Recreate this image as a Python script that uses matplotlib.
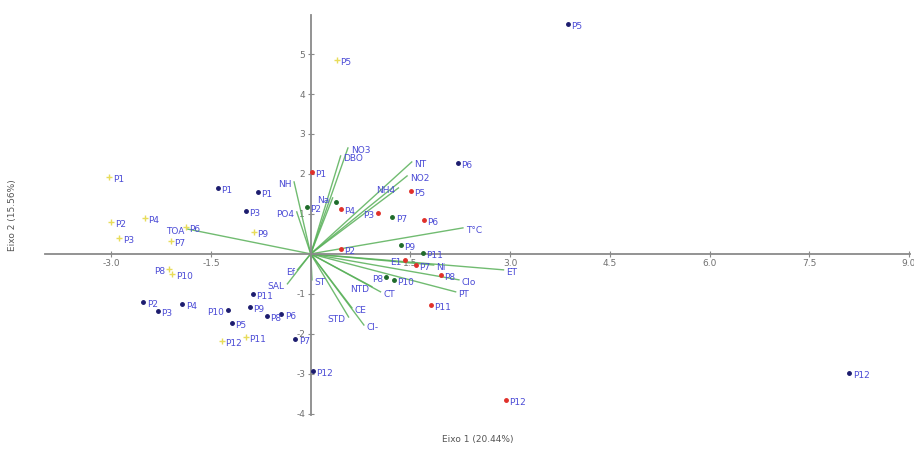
import matplotlib
matplotlib.use("Agg")
import matplotlib.pyplot as plt

# PCA biplot, scores per group + variable loadings

# yellow group
yel_lab = ["P1", "P2", "P4", "P3", "P6", "P7", "P8", "P10", "P9", "P12", "P11", "P5"]
yel_x = [-3.03, -3.0, -2.5, -2.88, -1.88, -2.1, -2.13, -2.08, -0.86, -1.34, -0.98, 0.39]
yel_y = [1.93, 0.80, 0.90, 0.40, 0.68, 0.33, -0.38, -0.50, 0.55, -2.17, -2.07, 4.85]

# dark blue group
blu_lab = ["P1", "P1", "P3", "P2", "P3", "P4", "P10", "P11", "P9", "P8", "P6", "P5",
           "P7", "P12", "P5", "P12", "P6"]
blu_x = [-1.40, -0.80, -0.98, -2.52, -2.30, -1.93, -1.25, -0.87, -0.92, -0.66, -0.44,
         -1.19, -0.23, 0.03, 3.87, 8.10, 2.21]
blu_y = [1.65, 1.55, 1.08, -1.20, -1.43, -1.25, -1.40, -1.00, -1.33, -1.55, -1.50,
         -1.73, -2.13, -2.93, 5.75, -2.98, 2.28]

# green group
grn_lab = ["P2", "", "P7", "P9", "P11", "P8", "P10"]
grn_x = [-0.06, 0.38, 1.23, 1.36, 1.69, 1.14, 1.25]
grn_y = [1.18, 1.30, 0.93, 0.23, 0.03, -0.58, -0.65]

# red group
red_lab = ["P1", "P4", "P3", "P5", "P6", "P2", "P11", "P12", "E1", "P7", "P8"]
red_x = [0.02, 0.45, 1.01, 1.51, 1.70, 0.45, 1.81, 2.94, 1.42, 1.58, 1.96]
red_y = [2.05, 1.13, 1.03, 1.58, 0.85, 0.13, -1.28, -3.65, -0.15, -0.28, -0.53]

# variable loadings
var_lab = ["NO3", "DBO", "NT", "NO2", "NH4", "T°C", "NH", "PO4", "Na", "TOA", "Ef",
           "SAL", "ST", "NTD", "CT", "ET", "Clo", "PT", "CE", "STD", "Cl-", "Ni"]
var_x = [0.56, 0.45, 1.52, 1.45, 1.32, 2.29, -0.25, -0.21, 0.33, -1.85, -0.20,
         -0.35, 0.02, 0.92, 1.05, 2.90, 2.23, 2.18, 0.62, 0.57, 0.80, 1.85]
var_y = [2.65, 2.45, 2.30, 1.95, 1.65, 0.65, 1.80, 1.05, 1.40, 0.62, -0.40,
         -0.75, -0.65, -0.82, -0.95, -0.40, -0.65, -0.95, -1.35, -1.58, -1.78, -0.28]

xticks = [-3.0, -1.5, 1.5, 3.0, 4.5, 6.0, 7.5, 9.0]
yticks = [-4, -3, -2, -1, 1, 2, 3, 4, 5]

LABC = "#4b4bd6"
AXC = "#8a8a8a"

# labels drawn on the left side of their mark
left_var = {"NTD", "STD", "Na", "NH4"}
left_pts = {("y", 6), ("b", 6), ("g", 5), ("r", 2), ("r", 8)}

fig = plt.figure(figsize=(9.14, 4.51), dpi=100)
ax = fig.add_axes([0.049, 0.080, 0.947, 0.887])
ax.set_xlim(-4.0, 9.02)
ax.set_ylim(-4.03, 5.98)

# vectors
for lab, x, y in zip(var_lab, var_x, var_y):
    ax.plot([0, x], [0, y], color="#58b058", lw=1.0, alpha=0.85, zorder=2)
    left = x < 0 or lab in left_var
    ax.annotate(lab, (x, y), xytext=(-2 if left else 2, -2), textcoords="offset points",
                ha="right" if left else "left", va="center", fontsize=6.5,
                color=LABC, zorder=4)

def scatter(key, xs, ys, labs, col, mk, ms):
    ax.plot(xs, ys, ls="none", marker=mk, color=col, ms=ms, zorder=3)
    for i, (lab, x, y) in enumerate(zip(labs, xs, ys)):
        left = (key, i) in left_pts
        ax.annotate(lab, (x, y), xytext=(-2.5 if left else 2.5, -2),
                    textcoords="offset points", ha="right" if left else "left",
                    va="center", fontsize=6.5, color=LABC, zorder=4)

scatter("y", yel_x, yel_y, yel_lab, "#e8dc5a", "+", 4)
scatter("b", blu_x, blu_y, blu_lab, "#1c1c6e", "o", 2.5)
scatter("g", grn_x, grn_y, grn_lab, "#1f6b2a", "o", 2.5)
scatter("r", red_x, red_y, red_lab, "#e0302a", "o", 2.5)

# axes through origin
for s in ["top", "right"]:
    ax.spines[s].set_visible(False)
ax.spines["left"].set_position(("data", 0))
ax.spines["bottom"].set_position(("data", 0))
for s in ["left", "bottom"]:
    ax.spines[s].set_color(AXC)
    ax.spines[s].set_linewidth(1.3)
ax.set_xticks(xticks)
ax.set_xticklabels([f"{t:.1f}" for t in xticks])
ax.set_yticks(yticks)
ax.set_yticklabels([str(t) for t in yticks])
ax.tick_params(direction="inout", length=4, width=0.8, color=AXC,
               labelsize=6.5, labelcolor="#707070", pad=2)

fig.text(0.523, 0.025, "Eixo 1 (20.44%)", fontsize=6.5, color="#555555",
         ha="center", va="center")
fig.text(0.014, 0.523, "Eixo 2 (15.56%)", fontsize=6.5, color="#555555",
         ha="center", va="center", rotation=90)

fig.savefig("out.png", dpi=100)
